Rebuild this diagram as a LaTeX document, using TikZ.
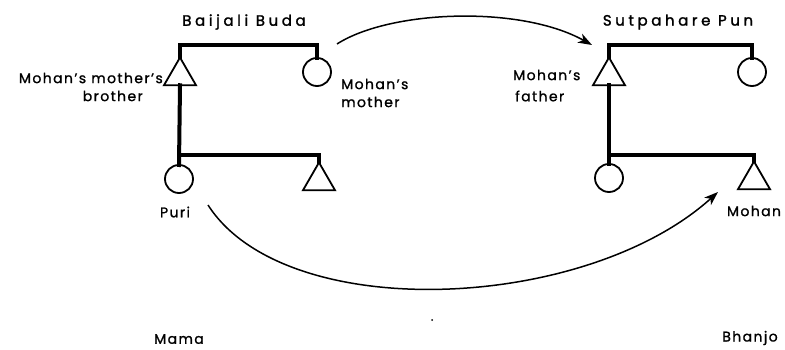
\documentclass[tikz,border=0pt]{standalone}
\usepackage{fontspec}
\setmainfont{Poppins}
\usetikzlibrary{shapes.geometric,arrows.meta}
\begin{document}
\begin{tikzpicture}[x=1pt,y=-1pt,
  kin/.style={line width=4pt,line cap=rect},
  male/.style={draw,line width=1.8pt,regular polygon,regular polygon sides=3,minimum size=37pt,inner sep=0pt,outer sep=0pt},
  female/.style={draw,line width=1.8pt,circle,minimum size=28pt,inner sep=0pt,outer sep=0pt},
  lbl/.style={font=\fontsize{14}{16}\selectfont\addfontfeature{LetterSpace=10,FakeBold=1.2},inner sep=0pt},
  head/.style={font=\fontsize{15}{17}\selectfont\addfontfeature{LetterSpace=24,FakeBold=1.6},inner sep=0pt},
  arr/.style={line width=1.5pt,-{Stealth[length=14pt,width=10pt,inset=4pt]}}]
\useasboundingbox (0,0) rectangle (785,350);
% symbols
\node[male]   (mmb) at (180,76) {};
\node[female] (mm)  at (317,72) {};
\node[female] (puri) at (179,179) {};
\node[male]   (lson) at (319,181) {};
\node[male]   (fa) at (609,76) {};
\node[female] (fw) at (752,72) {};
\node[female] (rd) at (609,178) {};
\node[male]   (mohan) at (754,180) {};
\coordinate (topbar) at (0,45);
\coordinate (botbar) at (0,155);
% kin lines
\draw[kin] (mmb.north) -- (mmb.north |- topbar) -| (mm.north);
\draw[kin] (mmb.south) -- (puri.north);
\draw[kin] (puri.north |- botbar) -| (lson.north);
\draw[kin] (fa.north) -- (fa.north |- topbar) -| (fw.north);
\draw[kin] (fa.south) -- (rd.north);
\draw[kin] (rd.north |- botbar) -| (mohan.north);
% labels
\node[head] (hb) at (244,22) {Baijali Buda};
\node[head] (hs) at (678,22) {Sutpahare Pun};
\node[lbl,anchor=east] (t1) at (163,78) {Mohan's mother's};
\node[lbl,anchor=east] (t2) at (143,96) {brother};
\node[lbl,anchor=west] (t3) at (341,84) {Mohan's};
\node[lbl,anchor=west] (t4) at (341,102) {mother};
\node[lbl,anchor=west] (t5) at (513,75) {Mohan's};
\node[lbl,anchor=west] (t6) at (515,96) {father};
\node[lbl] (tp) at (175,212) {Puri};
\node[lbl] (tm) at (754,211) {Mohan};
\node[lbl] (tma) at (179,339) {Mama};
\node[lbl] (tbh) at (750,338) {Bhanjo};
% arrows
\coordinate (a1s) at (337,44);
\coordinate (a1e) at (592,45);
\coordinate (a2s) at (208,205);
\coordinate (a2e) at (718,192);
\draw[arr] (a1s) .. controls (390,10) and (520,5) .. (a1e);
\draw[arr] (a2s) .. controls (285,325) and (585,312) .. (a2e);
\fill (432,320) circle (1pt);
\end{tikzpicture}
\end{document}
